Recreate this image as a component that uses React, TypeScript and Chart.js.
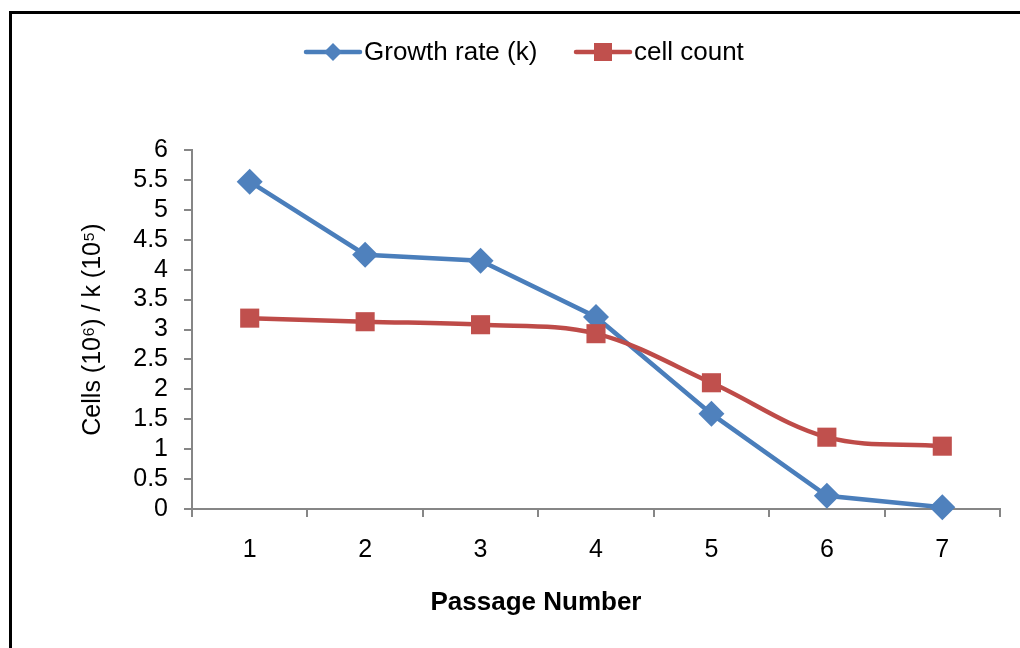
import React, { useEffect, useRef } from "react";
import { Chart, registerables } from "chart.js";

Chart.register(...registerables);

const categories = ["1", "2", "3", "4", "5", "6", "7"];
const growthRate = [5.47, 4.25, 4.15, 3.21, 1.59, 0.22, 0.03];
const cellCount = [3.19, 3.13, 3.08, 2.93, 2.11, 1.2, 1.05];
const seriesNames = ["Growth rate (k)", "cell count"];
const yTitle = "Cells (10\u2076) / k (10\u2075)";
const xTitle = "Passage Number";

const FONT = "'Liberation Sans', Arial, sans-serif";
const BLUE = "#4A7EBB";
const BLUE_M = "#4F81BD";
const RED = "#BE4B48";
const RED_M = "#C0504D";
const AXIS = "#868686";

const legendPlugin = {
  id: "excelLegend",
  afterDraw(chart: any) {
    const ctx = chart.ctx;
    const y = 52;
    const items = [
      { x: 306, line: BLUE, fill: BLUE_M, style: "diamond", text: seriesNames[0] },
      { x: 576, line: RED, fill: RED_M, style: "square", text: seriesNames[1] },
    ];
    ctx.save();
    for (const it of items) {
      ctx.strokeStyle = it.line;
      ctx.lineWidth = 4.5;
      ctx.lineCap = "round";
      ctx.beginPath();
      ctx.moveTo(it.x, y);
      ctx.lineTo(it.x + 54, y);
      ctx.stroke();
      const cx = it.x + 27;
      ctx.fillStyle = it.fill;
      ctx.beginPath();
      if (it.style === "diamond") {
        ctx.moveTo(cx, y - 9);
        ctx.lineTo(cx + 9, y);
        ctx.lineTo(cx, y + 9);
        ctx.lineTo(cx - 9, y);
        ctx.closePath();
      } else {
        ctx.rect(cx - 9, y - 9, 18, 18);
      }
      ctx.fill();
      ctx.fillStyle = "#000";
      ctx.font = `26px ${FONT}`;
      ctx.textBaseline = "middle";
      ctx.textAlign = "left";
      ctx.fillText(it.text, it.x + 58, y + 1);
    }
    // x axis title, centred like the reference
    ctx.font = `bold 26px ${FONT}`;
    ctx.textAlign = "center";
    ctx.textBaseline = "middle";
    ctx.fillStyle = "#000";
    ctx.fillText(xTitle, 536, 603);
    ctx.restore();
  },
};

export default function App() {
  const ref = useRef<HTMLCanvasElement | null>(null);
  useEffect(() => {
    if (!ref.current) return;
    const chart = new Chart(ref.current, {
      type: "line",
      data: {
        labels: categories,
        datasets: [
          {
            label: seriesNames[0],
            data: growthRate,
            borderColor: BLUE,
            backgroundColor: BLUE_M,
            borderWidth: 4.5,
            pointStyle: "rectRot",
            pointRadius: 13,
            pointBorderWidth: 0,
            pointBackgroundColor: BLUE_M,
            tension: 0,
            clip: false as any,
            order: 2,
          },
          {
            label: seriesNames[1],
            data: cellCount,
            borderColor: RED,
            backgroundColor: RED_M,
            borderWidth: 4.5,
            pointStyle: "rect",
            pointRadius: 13.5,
            pointBorderWidth: 0,
            pointBackgroundColor: RED_M,
            tension: 0.35,
            clip: false as any,
            order: 1,
          },
        ],
      },
      options: {
        animation: false,
        responsive: false,
        maintainAspectRatio: false,
        layout: { padding: { top: 150, left: 0, right: 20, bottom: 0 } },
        plugins: { legend: { display: false }, tooltip: { enabled: false } },
        scales: {
          x: {
            offset: true,
            border: { color: AXIS, width: 2 },
            grid: { drawOnChartArea: false, color: AXIS, lineWidth: 2, tickLength: 8, offset: true },
            ticks: { color: "#000", font: { size: 25, family: FONT }, padding: 18, autoSkip: false, maxRotation: 0 },
            title: { display: false, text: xTitle },
            afterFit: (s: any) => {
              s.height = 139;
            },
          },
          y: {
            min: 0,
            max: 6,
            border: { color: AXIS, width: 2 },
            grid: { drawOnChartArea: false, color: AXIS, lineWidth: 2, tickLength: 8 },
            ticks: {
              stepSize: 0.5,
              autoSkip: false,
              color: "#000",
              font: { size: 25, family: FONT, lineHeight: 1 },
              padding: 16,
              callback: (v: any) => String(v),
            },
            title: {
              display: true,
              text: yTitle,
              color: "#000",
              font: { size: 25, family: FONT },
              padding: { top: 78, bottom: 0 },
            },
            afterFit: (s: any) => {
              s.width = 192;
            },
          },
        },
      },
      plugins: [legendPlugin],
    });
    return () => chart.destroy();
  }, []);
  return (
    <div style={{ position: "absolute", left: 0, top: 0, width: 1020, height: 648, overflow: "hidden", background: "#fff" }}>
      <div
        style={{
          position: "absolute",
          left: 9,
          top: 11,
          width: 1200,
          height: 1000,
          border: "3px solid #000",
          boxSizing: "border-box",
        }}
      />
      <canvas ref={ref} width={1020} height={648} style={{ position: "absolute", left: 0, top: 0 }} />
    </div>
  );
}
